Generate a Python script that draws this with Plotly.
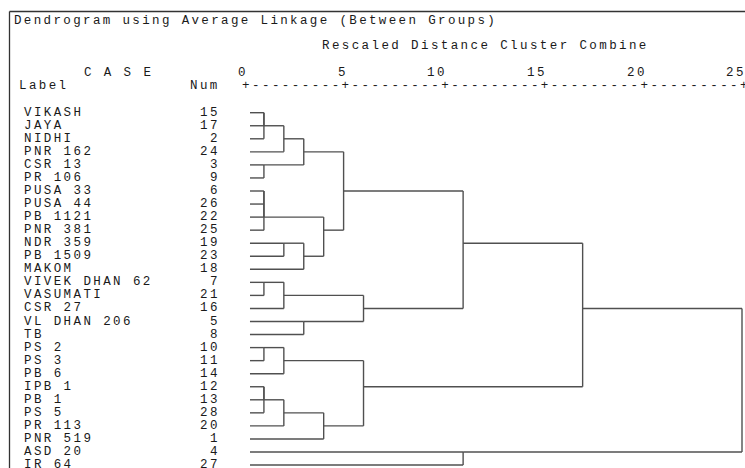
import plotly.graph_objects as go

# ---------------- data ----------------
case_labels = ["VIKASH", "JAYA", "NIDHI", "PNR 162", "CSR 13", "PR 106", "PUSA 33",
               "PUSA 44", "PB 1121", "PNR 381", "NDR 359", "PB 1509", "MAKOM",
               "VIVEK DHAN 62", "VASUMATI", "CSR 27", "VL DHAN 206", "TB", "PS 2",
               "PS 3", "PB 6", "IPB 1", "PB 1", "PS 5", "PR 113", "PNR 519",
               "ASD 20", "IR 64"]
case_nums = [15, 17, 2, 24, 3, 9, 6, 26, 22, 25, 19, 23, 18, 7, 21, 16, 5, 8,
             10, 11, 14, 12, 13, 28, 20, 1, 4, 27]

# (new cluster, member a, member b, rescaled distance) ; ints = case numbers
linkage = [
    ("m1", 15, 17, 1), ("m2", "m1", 2, 1), ("m3", "m2", 24, 2),
    ("m4", 3, 9, 1), ("m5", "m3", "m4", 3),
    ("m6", 6, 26, 1), ("m7", "m6", 22, 1), ("m8", "m7", 25, 1),
    ("m9", 19, 23, 2), ("m10", "m9", 18, 3), ("m11", "m8", "m10", 4),
    ("m12", "m5", "m11", 5),
    ("m13", 7, 21, 1), ("m14", "m13", 16, 2), ("m15", 5, 8, 3),
    ("m16", "m14", "m15", 6), ("m17", "m12", "m16", 11),
    ("m18", 10, 11, 1), ("m19", "m18", 14, 2),
    ("m20", 12, 13, 1), ("m21", "m20", 28, 1), ("m22", "m21", 20, 2),
    ("m23", "m22", 1, 4), ("m24", "m19", "m23", 6),
    ("m25", "m17", "m24", 17), ("m26", 4, 27, 11), ("m27", "m25", "m26", 25),
]

axis_ticks = [0, 5, 10, 15, 20, 25]
title_text = "Dendrogram using Average Linkage (Between Groups)"
axis_title = "Rescaled Distance Cluster Combine"

# ---------------- layout constants (pixels) ----------------
W, H = 745, 468
X0_PX, PX_PER_UNIT = 244.0, 19.92
ROW0_PX, PX_PER_ROW = 112.7, 13.05
LEAF_X = 0.3
FONT = "Liberation Mono, Courier New, monospace"
FS = 12.5
PITCH = 9.9
LS = PITCH - 0.6 * FS
TXT = "#1a1a1a"
LINE = "#505050"


def sp(t, pitch=PITCH):
    ls = pitch - 0.6 * FS
    t = t.replace(" ", "\u00a0")
    return '<span style="letter-spacing:%.2fpx">%s</span>' % (ls, t)


def py(px):
    return 1 - px / H


def pxx(px):
    return px / W

# ---------------- dendrogram geometry ----------------
pos = {}
for i, n in enumerate(case_nums):
    pos[n] = (LEAF_X, i)

xs, ys = [], []
for name, a, b, d in linkage:
    xa, ya = pos[a]
    xb, yb = pos[b]
    xs += [xa, d, None, xb, d, None, d, d, None]
    ys += [ya, ya, None, yb, yb, None, ya, yb, None]
    pos[name] = (d, (ya + yb) // 2)

fig = go.Figure()
fig.add_trace(go.Scatter(x=xs, y=ys, mode="lines",
                         line=dict(color=LINE, width=1.4),
                         hoverinfo="skip", showlegend=False))

ann = []
for i, (lab, n) in enumerate(zip(case_labels, case_nums)):
    ann.append(dict(x=pxx(22), xref="paper", y=i, yref="y", text=sp(lab),
                    xanchor="left", yanchor="middle", showarrow=False))
    ann.append(dict(x=pxx(222), xref="paper", y=i, yref="y", text=sp(str(n)),
                    xanchor="right", yanchor="middle", showarrow=False))

ann.append(dict(x=pxx(12), xref="paper", y=py(20.7), yref="paper", text=sp(title_text, 9.86),
                xanchor="left", yanchor="middle", showarrow=False))
ann.append(dict(x=pxx(320), xref="paper", y=py(45.7), yref="paper", text=sp(axis_title),
                xanchor="left", yanchor="middle", showarrow=False))
ann.append(dict(x=pxx(82), xref="paper", y=py(72.7), yref="paper", text=sp("C A S E"),
                xanchor="left", yanchor="middle", showarrow=False))
ann.append(dict(x=pxx(17), xref="paper", y=py(86), yref="paper", text=sp("Label"),
                xanchor="left", yanchor="middle", showarrow=False))
ann.append(dict(x=pxx(222), xref="paper", y=py(86), yref="paper", text=sp("Num"),
                xanchor="right", yanchor="middle", showarrow=False))

for t in axis_ticks:
    ann.append(dict(x=t, xref="x", y=py(72.7), yref="paper", text=sp(str(t)),
                    xanchor="right", yanchor="middle", showarrow=False,
                    xshift=0.3 * FS + LS))

axis_pitch = PX_PER_UNIT * (axis_ticks[1] - axis_ticks[0]) / 10
rule = "+".join(["-" * 9] * (len(axis_ticks) - 1))
rule = "+" + rule + "+"
ann.append(dict(x=axis_ticks[0], xref="x", y=py(86), yref="paper", text=sp(rule, axis_pitch),
                xanchor="left", yanchor="middle", showarrow=False, xshift=-0.3 * FS))

for a in ann:
    a["font"] = dict(family=FONT, size=FS, color=TXT)

shapes = [
    dict(type="line", xref="paper", yref="paper", x0=pxx(9.5), x1=pxx(9.5),
         y0=-0.05, y1=py(11.5), line=dict(color="#333333", width=1.3)),
    dict(type="line", xref="paper", yref="paper", x0=pxx(9.5), x1=1.01,
         y0=py(11.5), y1=py(11.5), line=dict(color="#333333", width=1.3)),
]

x_lo = -X0_PX / PX_PER_UNIT
x_hi = (W - X0_PX) / PX_PER_UNIT
y_top = -ROW0_PX / PX_PER_ROW
y_bot = (H - ROW0_PX) / PX_PER_ROW

fig.update_layout(
    width=W, height=H, margin=dict(l=0, r=0, t=0, b=0),
    paper_bgcolor="white", plot_bgcolor="white",
    xaxis=dict(range=[x_lo, x_hi], visible=False, fixedrange=True),
    yaxis=dict(range=[y_bot, y_top], visible=False, fixedrange=True),
    annotations=ann, shapes=shapes, showlegend=False,
)

fig.write_html("out.html", config={"displayModeBar": False},
               post_script="document.body.style.margin='0';document.body.style.overflow='hidden';")
